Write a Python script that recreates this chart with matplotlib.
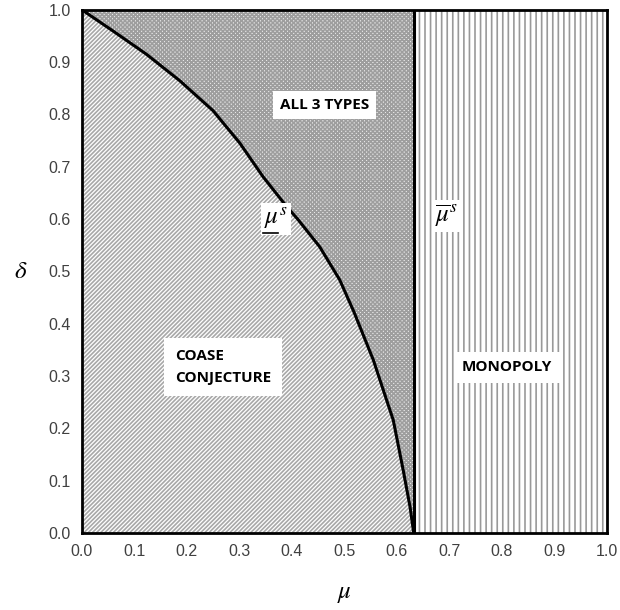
import numpy as np
import matplotlib
matplotlib.use("Agg")
import matplotlib.pyplot as plt

plt.rcParams['mathtext.fontset'] = 'stix'
plt.rcParams['hatch.linewidth'] = 1.2

# boundary curve mu_s
mu_low = [0.0, 0.060, 0.123, 0.187, 0.250, 0.301, 0.345, 0.390, 0.411, 0.453,
          0.491, 0.518, 0.555, 0.593, 0.612, 0.625, 0.632]
delta_pts = [1.0, 0.959, 0.915, 0.864, 0.807, 0.745, 0.681, 0.624, 0.600, 0.547,
             0.484, 0.423, 0.331, 0.216, 0.120, 0.050, 0.0]
mu_high = 0.632

ticks = np.round(np.arange(0, 1.01, 0.1), 1)
tick_labels = ["%.1f" % t for t in ticks]

fig = plt.figure(figsize=(6.2, 6.1), dpi=100)
ax = fig.add_axes([0.132, 0.126, 0.847, 0.858])

d = np.array(delta_pts)
m = np.array(mu_low)
ax.fill_betweenx(d, 0, m, facecolor='white', edgecolor='#a8a8a8', hatch='////////', linewidth=0)
ax.fill_betweenx(d, m, mu_high, facecolor='#ececec', edgecolor='#9e9e9e', hatch='xxxxxxxx', linewidth=0)
ax.fill_betweenx([0, 1], mu_high, 1, facecolor='white', edgecolor='#999999', hatch='|||', linewidth=0)

ax.plot(m, d, color='black', lw=2.2, solid_joinstyle='round')
ax.plot([mu_high, mu_high], [0, 1], color='black', lw=2.2)

font = dict(family='Open Sans', weight='bold', size=11)
ax.text(0.463, 0.818, "ALL 3 TYPES", ha='center', va='center',
        bbox=dict(facecolor='white', edgecolor='none', pad=5), **font)
ax.text(0.177, 0.318, "COASE\nCONJECTURE", ha='left', va='center', linespacing=1.7,
        bbox=dict(facecolor='white', edgecolor='none', pad=8), **font)
ax.text(0.81, 0.317, "MONOPOLY", ha='center', va='center',
        bbox=dict(facecolor='white', edgecolor='none', pad=6), **font)

# mu_s lower label (underlined mu)
ax.text(0.37, 0.60, r'$\mu^s$', ha='center', va='center', fontsize=18,
        bbox=dict(facecolor='white', edgecolor='none', pad=2))
ax.plot([0.345, 0.373], [0.574, 0.574], color='black', lw=1.2, zorder=5)
# mu_s upper label (overlined mu)
ax.text(0.695, 0.606, r'$\overline{\mu}^s$', ha='center', va='center', fontsize=18,
        bbox=dict(facecolor='white', edgecolor='none', pad=2))

ax.set_xlim(0, 1)
ax.set_ylim(0, 1)
ax.set_xticks(ticks)
ax.set_xticklabels(tick_labels)
ax.set_yticks(ticks)
ax.set_yticklabels(tick_labels)
ax.tick_params(length=0, labelsize=11.5, labelcolor='#404040', pad=8)
for lab in ax.get_xticklabels() + ax.get_yticklabels():
    lab.set_family('Liberation Sans')
for s in ax.spines.values():
    s.set_linewidth(2)

ax.set_xlabel(r'$\mu$', fontsize=18, labelpad=16)
ax.set_ylabel(r'$\delta$', fontsize=18, rotation=0, labelpad=20, va='center')

fig.savefig("out.png", dpi=100)
